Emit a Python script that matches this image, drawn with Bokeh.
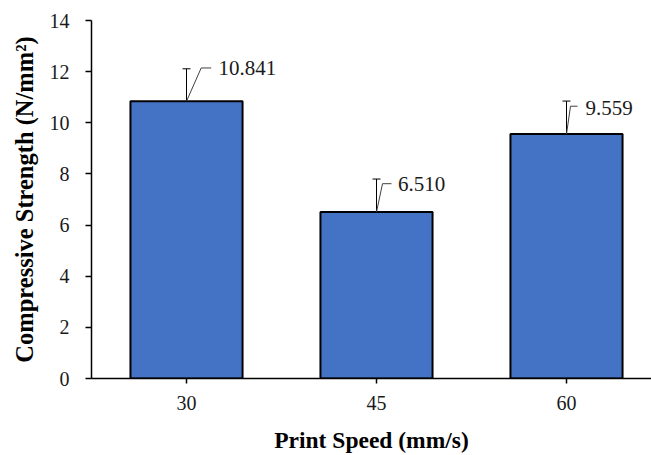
from bokeh.plotting import figure
from bokeh.models import ColumnDataSource, Whisker, TeeHead, FixedTicker
from bokeh.core.properties import value
from bokeh.embed import file_html
from bokeh.resources import INLINE

# ---- data ----
categories = ["30", "45", "60"]
strength = [10.841, 6.510, 9.559]
errors = [1.27, 1.29, 1.29]
y_ticks = [0, 2, 4, 6, 8, 10, 12, 14]
label_texts = ["10.841", "6.510", "9.559"]

# ---- layout / style (pixels) ----
FONT = "Liberation Serif"
W, H = 651, 455
LEFT, TOP = 91, 20
PX_PER_CAT = 190.0
Y_MAX = 14
BAR_W = 0.59
# per-label offsets in pixels from the bar top centre (x right, y up)
txt_dx = [32, 21.6, 19]
txt_dy = [33, 28, 26]
elbow_dx = [14.7, 6, 4]
elbow_dy = [33.5, 28.5, 28]
end_dx = [24.7, 15, 11]

xs = list(range(1, len(categories) + 1))
frame_w = W - LEFT
x_end = 0.5 + frame_w / PX_PER_CAT

p = figure(width=W, height=H, output_backend="svg", toolbar_location=None,
           x_range=(0.5, x_end), y_range=(0, Y_MAX),
           min_border_left=LEFT, min_border_top=TOP, min_border_right=0,
           min_border_bottom=75,
           background_fill_color="white", border_fill_color="white")
p.outline_line_color = None
p.grid.visible = False

src = ColumnDataSource(dict(x=xs, top=strength,
                            upper=[v + e for v, e in zip(strength, errors)],
                            lower=[v - e for v, e in zip(strength, errors)]))
p.vbar(x="x", top="top", width=BAR_W, source=src, fill_color="#4472C4",
       line_color="black", line_width=2)

p.add_layout(Whisker(source=src, base="x", upper="upper", lower="lower",
                     line_color="black", line_width=1,
                     upper_head=TeeHead(size=8, line_color="black", line_width=1),
                     lower_head=TeeHead(size=8, line_color="black", line_width=1)))

# frame height estimate for converting pixel offsets to data units
frame_h = 360.0
py = frame_h / Y_MAX
x0s, y0s, x1s, y1s = [], [], [], []
for x, v, edx, edy, ndx in zip(xs, strength, elbow_dx, elbow_dy, end_dx):
    ex, ey = x + edx / PX_PER_CAT, v + edy / py
    x0s += [x, ex]
    y0s += [v, ey]
    x1s += [ex, x + ndx / PX_PER_CAT]
    y1s += [ey, ey]
p.segment(x0=x0s, y0=y0s, x1=x1s, y1=y1s, line_color="#404040", line_width=1)

p.text(x=xs, y=strength, text=label_texts,
       x_offset=txt_dx, y_offset=[-d for d in txt_dy],
       text_font=value(FONT), text_font_size="21px", text_color="#1a1a1a",
       text_align="left", text_baseline="middle")

# axes
for ax in (p.xaxis[0], p.yaxis[0]):
    ax.axis_line_color = "black"
    ax.axis_line_width = 1.5
    ax.major_tick_line_color = "black"
    ax.major_tick_line_width = 1.5
    ax.major_tick_in = 0
    ax.minor_tick_line_color = None
    ax.major_label_text_font = FONT
    ax.major_label_text_font_size = "20px"
    ax.major_label_text_color = "#1a1a1a"
    ax.axis_label_text_font = FONT
    ax.axis_label_text_font_style = "bold"
    ax.axis_label_text_color = "black"

p.xaxis.ticker = FixedTicker(ticks=xs)
p.xaxis.major_label_overrides = {x: c for x, c in zip(xs, categories)}
p.xaxis.major_tick_out = 5
p.xaxis.major_label_standoff = 12
p.xaxis.axis_label = "Print Speed (mm/s)"
p.xaxis.axis_label_text_font_size = "23.5px"
p.xaxis.axis_label_standoff = 14

p.yaxis.ticker = FixedTicker(ticks=y_ticks)
p.yaxis.major_tick_out = 6
p.yaxis.major_label_standoff = 16
p.yaxis.axis_label = "Compressive Strength (N/mm²)"
p.yaxis.axis_label_text_font_size = "24.5px"
p.yaxis.axis_label_standoff = 9

open("out.html", "w").write(file_html(p, INLINE))
